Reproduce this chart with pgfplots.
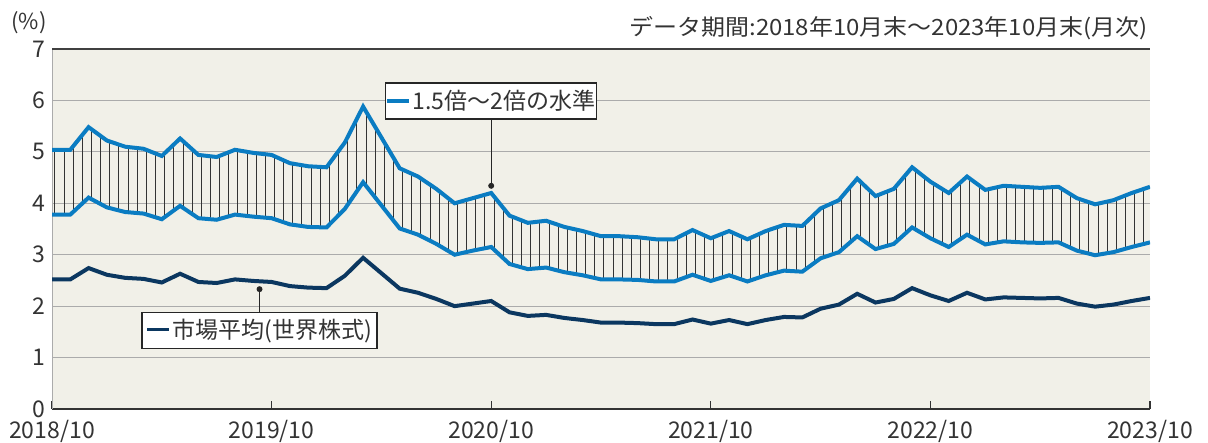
\documentclass[border=0pt]{standalone}
\usepackage{pgfplots}
\pgfplotsset{compat=1.18}
\usepackage{pgfplotstable}
\usepackage{graphicx}
\usepgfplotslibrary{fillbetween}
\usetikzlibrary{patterns.meta,calc}
\usepackage{fontspec}
\setmainfont{Noto Sans CJK JP}
\definecolor{bg}{HTML}{F1F0E8}
\definecolor{lblue}{HTML}{0A7CC2}
\definecolor{navy}{HTML}{0B3760}
\definecolor{gridc}{HTML}{ABABAB}
\definecolor{txt}{HTML}{333333}

\pgfplotstableread{
x m lo hi
0 2.52 3.78 5.04
1 2.52 3.78 5.04
2 2.74 4.11 5.48
3 2.61 3.92 5.22
4 2.55 3.83 5.10
5 2.53 3.80 5.06
6 2.46 3.69 4.92
7 2.63 3.95 5.26
8 2.47 3.71 4.94
9 2.45 3.68 4.90
10 2.52 3.78 5.04
11 2.49 3.74 4.98
12 2.47 3.71 4.94
13 2.39 3.59 4.78
14 2.36 3.54 4.72
15 2.35 3.53 4.70
16 2.59 3.89 5.18
17 2.94 4.41 5.88
18 2.64 3.96 5.28
19 2.34 3.51 4.68
20 2.26 3.39 4.52
21 2.14 3.21 4.28
22 2.00 3.00 4.00
23 2.05 3.08 4.10
24 2.10 3.15 4.20
25 1.88 2.82 3.76
26 1.81 2.72 3.62
27 1.83 2.75 3.66
28 1.77 2.66 3.54
29 1.73 2.60 3.46
30 1.68 2.52 3.36
31 1.68 2.52 3.36
32 1.67 2.51 3.34
33 1.65 2.48 3.30
34 1.65 2.48 3.30
35 1.74 2.61 3.48
36 1.66 2.49 3.32
37 1.73 2.60 3.46
38 1.65 2.48 3.30
39 1.73 2.60 3.46
40 1.79 2.69 3.58
41 1.78 2.67 3.56
42 1.95 2.93 3.90
43 2.03 3.05 4.06
44 2.24 3.36 4.48
45 2.07 3.11 4.14
46 2.14 3.21 4.28
47 2.35 3.53 4.70
48 2.21 3.32 4.42
49 2.10 3.15 4.20
50 2.26 3.39 4.52
51 2.13 3.20 4.26
52 2.17 3.26 4.34
53 2.16 3.24 4.32
54 2.15 3.23 4.30
55 2.16 3.24 4.32
56 2.05 3.08 4.10
57 1.99 2.99 3.98
58 2.03 3.05 4.06
59 2.10 3.15 4.20
60 2.16 3.24 4.32
}\data

\begin{document}
\begin{tikzpicture}
\begin{axis}[
  set layers,
  scale only axis, width=549pt, height=180pt,
  xmin=0, xmax=60, ymin=0, ymax=7,
  axis background/.style={fill=bg},
  axis x line=bottom, axis y line=left,
  axis line style={-},
  x axis line style={draw=black!80, line width=0.9pt},
  y axis line style={draw=gridc, line width=0.5pt},
  xtick={0,12,24,36,48,60},
  xticklabels={2018/10,2019/10,2020/10,2021/10,2022/10,2023/10},
  ytick={0,1,2,3,4,5,6,7},
  ymajorgrids, grid style={gridc, line width=0.6pt},
  tick align=inside, major tick length=4pt,
  xtick style={draw=black!80, line width=0.6pt},
  ytick style={draw=none},
  /pgf/number format/assume math mode=true,
  xticklabel style={font=\fontsize{11.5}{11.5}\selectfont, text=txt, yshift=-2pt},
  yticklabel style={font=\fontsize{11.5}{11.5}\selectfont, text=txt},
]
\addplot[name path=hi, lblue, line width=2pt] table[x=x,y=hi]{\data};
\addplot[name path=lo, lblue, line width=2pt] table[x=x,y=lo]{\data};
\addplot[draw=none, pattern={Lines[angle=90,distance=4.575pt,line width=0.5pt]}, pattern color=black!80] fill between[of=hi and lo];
\addplot[navy, line width=2pt] table[x=x,y=m]{\data};
\draw[black!75, line width=0.9pt] (axis cs:0,7) -- (axis cs:60,7);
% annotations
\draw[black!85, line width=0.5pt] (axis cs:24,5.64) -- (axis cs:24,4.34);
\fill[black!85] (axis cs:24,4.34) circle (1.5pt);
\node[draw=black!85, fill=white, line width=0.6pt, minimum width=105.5pt, minimum height=18pt, inner sep=0pt,
  font=\fontsize{11.5}{11.5}\selectfont, text=txt] at (axis cs:24,5.99)
  {{\color{lblue}\rule[0.3em]{11pt}{1.7pt}}\hspace{1.5pt}1.5倍～2倍の水準};
\draw[black!85, line width=0.5pt] (axis cs:11.34,1.87) -- (axis cs:11.34,2.33);
\fill[black!85] (axis cs:11.34,2.33) circle (1.5pt);
\node[draw=black!85, fill=white, line width=0.6pt, minimum width=117.5pt, minimum height=18pt, inner sep=0pt,
  font=\fontsize{11.5}{11.5}\selectfont, text=txt] at (axis cs:11.34,1.52)
  {{\color{navy}\rule[0.3em]{11pt}{1.7pt}}\hspace{1.5pt}市場平均(世界株式)};
\coordinate (SW) at (rel axis cs:0,0);
\coordinate (NE) at (rel axis cs:1,1);
\end{axis}
\node[font=\fontsize{11.2}{11.2}\selectfont, text=txt, anchor=east, inner sep=0pt] at ($(NE)+(-1pt,10.5pt)$) {\scalebox{1.07}[1]{データ期間:2018年10月末～2023年10月末(月次)}};
\node[font=\fontsize{11}{11}\selectfont, text=txt, inner sep=0pt] at ($(SW|-NE)+(-11.5pt,13pt)$) {(\%)};
\pgfresetboundingbox
\path[use as bounding box] ($(SW)+(-26pt,-17pt)$) rectangle ($(NE)+(29pt,24.5pt)$);
\end{tikzpicture}
\end{document}
